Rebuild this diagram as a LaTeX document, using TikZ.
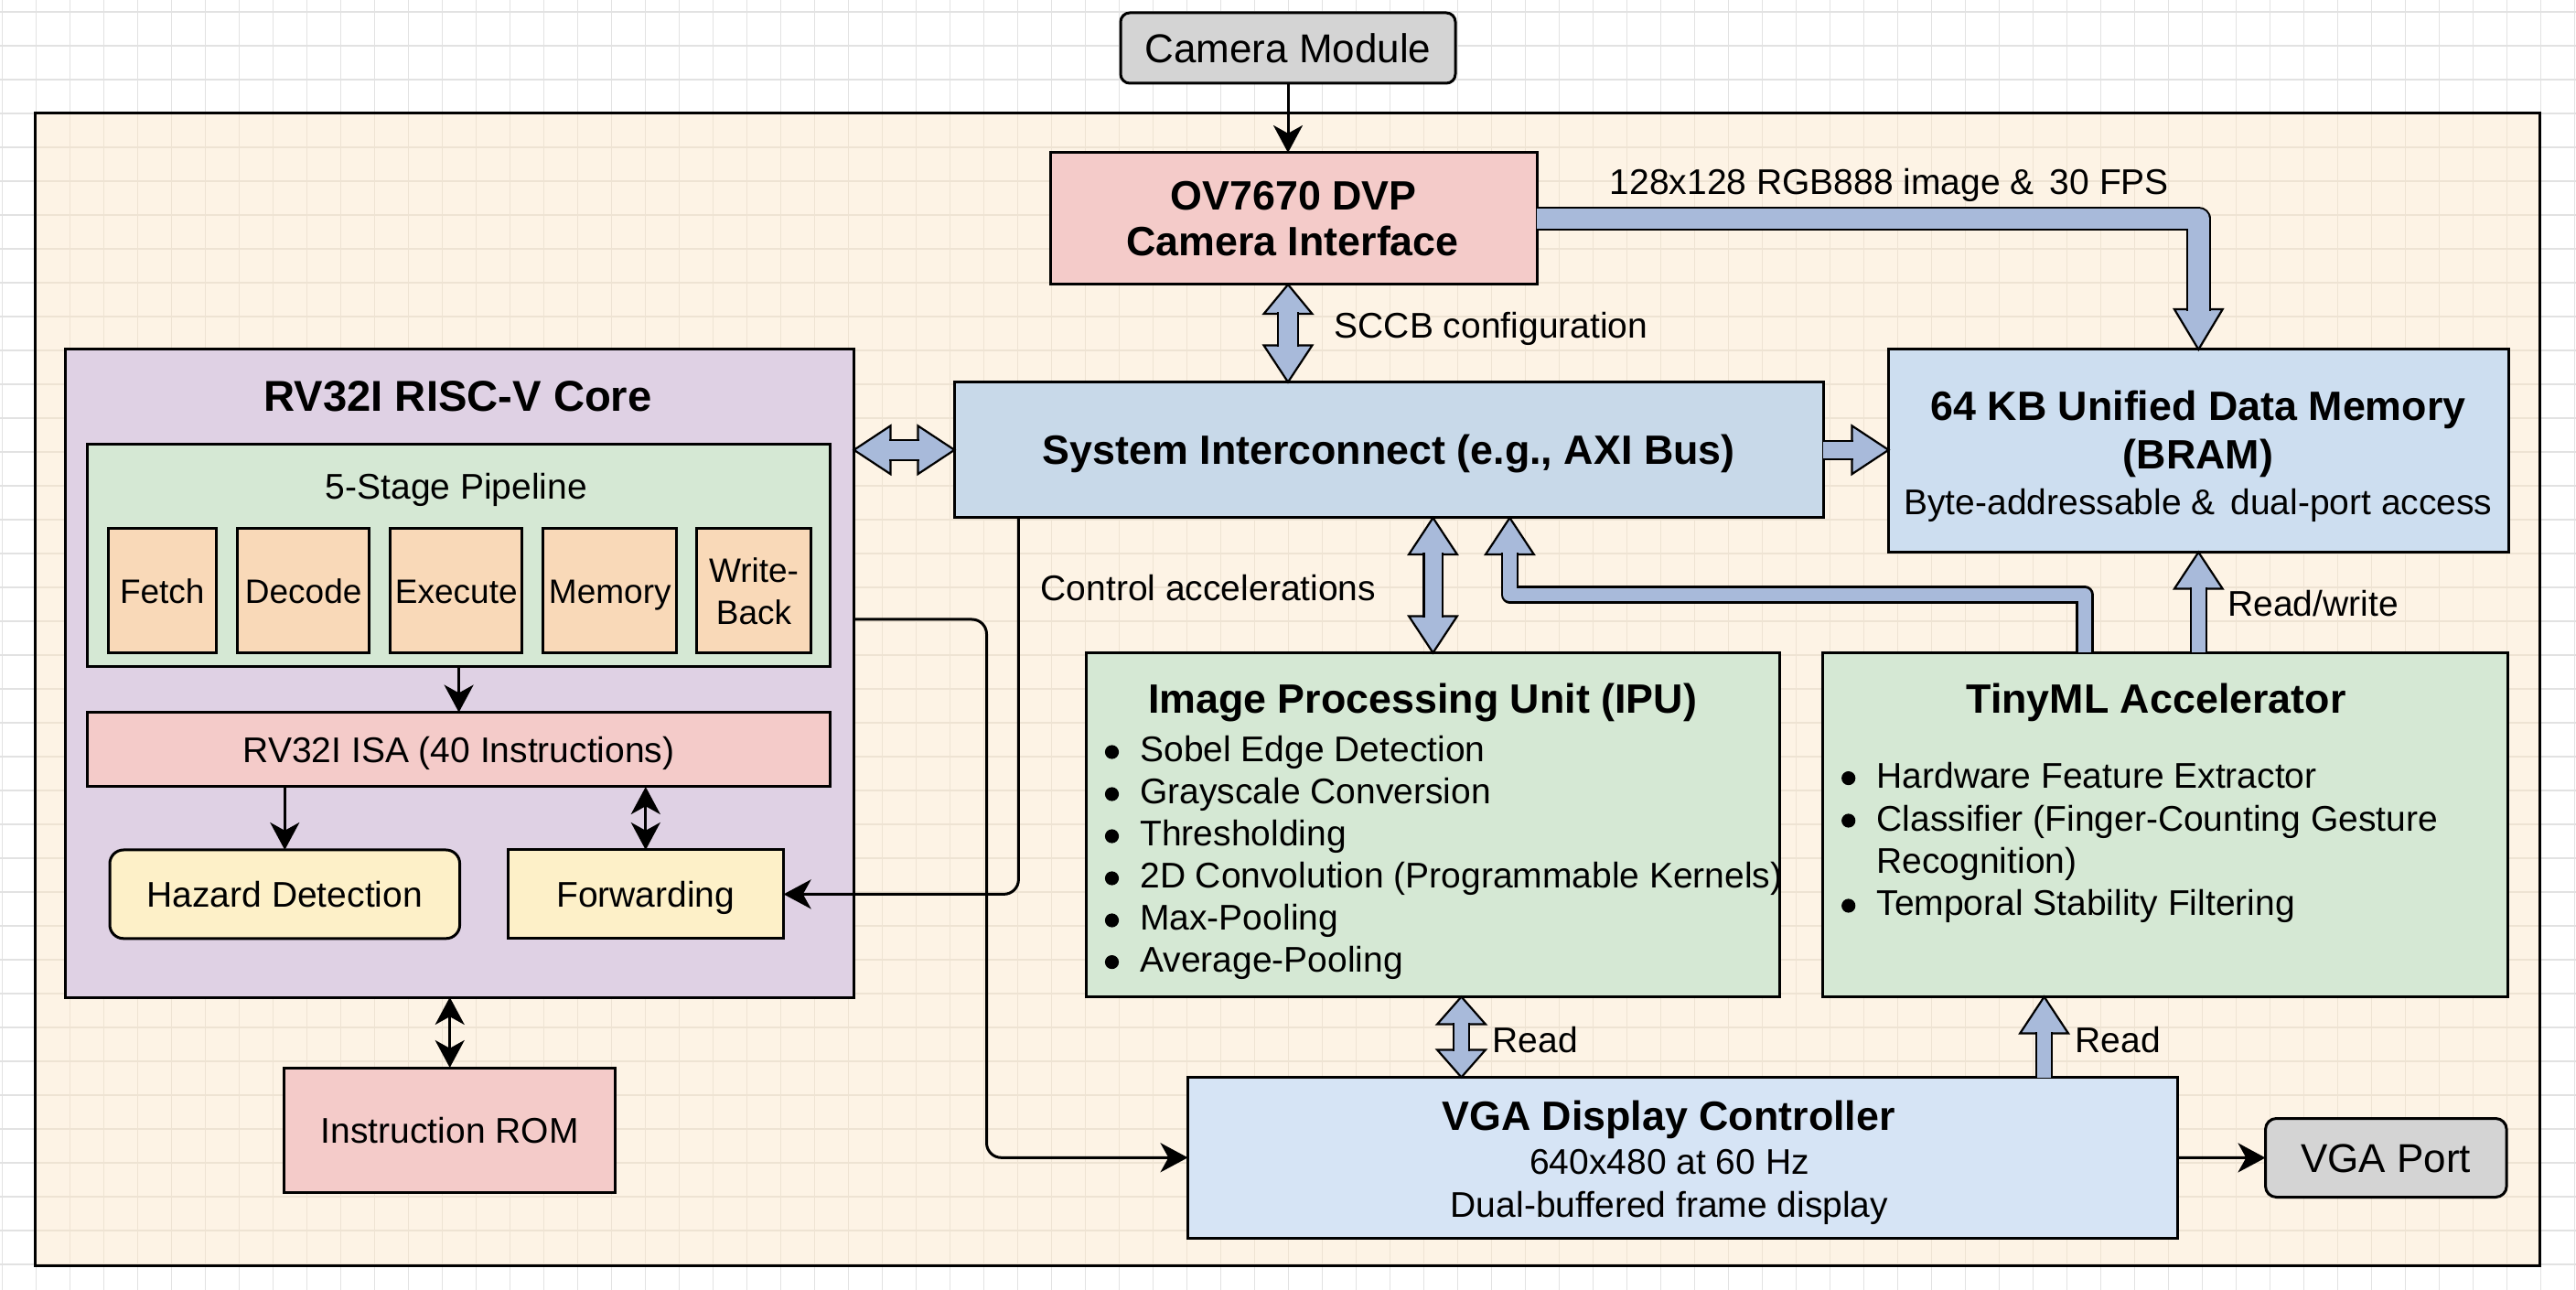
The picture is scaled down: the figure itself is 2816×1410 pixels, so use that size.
\documentclass[tikz,border=0pt]{standalone}
\usepackage{fontspec}
\setmainfont{Liberation Sans}
\usetikzlibrary{arrows.meta,calc}
\definecolor{ccream}{HTML}{FDF3E5}
\definecolor{cgridout}{HTML}{E2E2E2}
\definecolor{cgridin}{HTML}{EEE3D3}
\definecolor{clav}{HTML}{DFD1E4}
\definecolor{cgrn}{HTML}{D5E8D4}
\definecolor{cpeach}{HTML}{F9D9B8}
\definecolor{cpink}{HTML}{F4CBC9}
\definecolor{cyel}{HTML}{FDF0C8}
\definecolor{cicblue}{HTML}{C8D9E9}
\definecolor{cmemblue}{HTML}{CDDEF0}
\definecolor{cvgablue}{HTML}{D6E4F5}
\definecolor{cgry}{HTML}{D4D4D4}
\definecolor{cfat}{HTML}{A8BADA}
\newcommand\fttl{\fontsize{11.2pt}{13pt}\selectfont\bfseries}
\newcommand\ftxt{\fontsize{9.75pt}{11.5pt}\selectfont}
\newcommand\fstg{\fontsize{9.25pt}{11.5pt}\selectfont}
\newcommand\fcam{\fontsize{11pt}{13pt}\selectfont}
\newcommand\fcore{\fontsize{11.8pt}{14pt}\selectfont\bfseries}
\newcommand\fhead[3][10pt]{\draw[fathd] (#2) -- ($(#2)+(#3+180:#1)+(#3+90:6.6pt)$) -- ($(#2)+(#3+180:#1)+(#3-90:6.6pt)$) -- cycle;}
\tikzset{
 bx/.style={draw=black, line width=0.75pt, inner sep=0pt, outer sep=0pt},
 capt/.style={text height=#1, text depth=0pt},
 stg/.style={bx, fill=cpeach, minimum height=34pt, font=\fstg},
 thinarr/.style={draw=black, line width=0.75pt, -{Stealth[length=7.5pt,width=8pt,inset=2.2pt]}},
 thinarrb/.style={draw=black, line width=0.75pt, {Stealth[length=7.5pt,width=8pt,inset=2.2pt]}-{Stealth[length=7.5pt,width=8pt,inset=2.2pt]}},
 fathd/.style={draw=black, fill=cfat, line width=0.55pt, line join=miter},
 fatshaft/.style={draw=black, line width=0.55pt, double=cfat, double distance=#1, line join=round},
 fatshaft/.default=4.5pt,
 lbl/.style={anchor=base west, inner sep=0pt, font=\ftxt},
 ctr/.style={anchor=base, inner sep=0pt},
}
\begin{document}
\begin{tikzpicture}[x=0.25pt,y=-0.25pt]
\useasboundingbox (0,0) rectangle (2816,1410);
\fill[white] (0,0) rectangle (2816,1410);
\foreach \gx in {2.5,39.5,...,2816} \draw[cgridout, line width=0.3pt] (\gx,0) -- (\gx,1410);
\foreach \gy in {13,50,...,1410} \draw[cgridout, line width=0.3pt] (0,\gy) -- (2816,\gy);
% SoC frame
\node[fill=ccream, inner sep=0pt, minimum width=684.125pt, minimum height=314.75pt] (soc) at (1407.75,753.5) {};
\foreach \gx in {76.5,113.5,...,2775} \draw[cgridin, line width=0.3pt] (\gx,124) -- (\gx,1383);
\foreach \gy in {161,198,...,1382} \draw[cgridin, line width=0.3pt] (39.5,\gy) -- (2776,\gy);
\draw[line width=0.75pt] (soc.north west) rectangle (soc.south east);

% top
\node[bx, fill=cgry, rounded corners=2.5pt, minimum width=91.5pt, minimum height=19.25pt, font=\fcam, capt=7.9pt] (cam) at (1408,52.5) {Camera Module};
\node[bx, fill=cpink, minimum width=133pt, minimum height=36pt] (ov) at (1414,239) {};
\node[ctr, font=\fttl] (ov1) at (1414,230) {OV7670 DVP};
\node[ctr, font=\fttl] (ov2) at (1413,280) {Camera Interface};

% core
\node[bx, fill=clav, minimum width=215.5pt, minimum height=177pt] (core) at (502.5,736) {};
\node[ctr, font=\fcore] (coret) at (500.6,450) {RV32I RISC-V Core};
\node[bx, fill=cgrn, minimum width=202.95pt, minimum height=60.575pt] (pipe) at (501.6,606.9) {};
\node[ctr, font=\ftxt] (pipet) at (499,546) {5-Stage Pipeline};
\node[stg, capt=6.62pt, minimum width=29.65pt] (fetch) at (177.3,646) {Fetch};
\node[stg, capt=6.62pt, minimum width=36pt] (decode) at (331.7,646) {Decode};
\node[stg, capt=6.62pt, minimum width=36pt] (execute) at (498.8,646) {Execute};
\node[stg, capt=6.62pt, minimum width=36.5pt] (memstage) at (666.8,646) {Memory};
\node[stg, minimum width=31.25pt, align=center] (wb) at (824,646) {Write-\\Back};
\node[bx, fill=cpink, minimum width=202.95pt, minimum height=20.35pt, font=\ftxt, capt=6.98pt] (isa) at (501.6,819.3) {RV32I ISA (40 Instructions)};
\node[bx, fill=cyel, rounded corners=3.75pt, minimum width=95.65pt, minimum height=24.2pt, font=\ftxt, capt=6.98pt] (hazard) at (311.3,977.4) {Hazard Detection};
\node[bx, fill=cyel, minimum width=75.4pt, minimum height=24.2pt, font=\ftxt, capt=6.98pt] (fwd) at (705.8,977.4) {Forwarding};
\node[bx, fill=cpink, minimum width=90.55pt, minimum height=34.15pt, font=\ftxt, capt=6.98pt] (rom) at (491.7,1235.3) {Instruction ROM};

% interconnect and memory
\node[bx, fill=cicblue, minimum width=237.4pt, minimum height=37.1pt, font=\fttl, capt=8pt] (ic) at (1518.2,491.8) {System Interconnect (e.g., AXI Bus)};
\node[bx, fill=cmemblue, minimum width=169.4pt, minimum height=55.4pt] (mem) at (2403.3,492.8) {};
\node[ctr, font=\fttl] (mem1) at (2403,460) {64 KB Unified Data Memory};
\node[ctr, font=\fttl] (mem2) at (2403,513) {(BRAM)};
\node[ctr, font=\ftxt] (mem3) at (2403,563) {Byte-addressable \&\hspace{4.15pt}dual-port access};

% IPU
\node[bx, fill=cgrn, minimum width=189.5pt, minimum height=94pt] (ipu) at (1566.5,901.5) {};
\node[ctr, font=\fttl] (iput) at (1555,780) {Image Processing Unit (IPU)};
\node[lbl] (ipu1) at (1245.5,833) {Sobel Edge Detection};
\node[lbl] (ipu2) at (1245.5,879) {Grayscale Conversion};
\node[lbl] (ipu3) at (1245.5,925) {Thresholding};
\node[lbl] (ipu4) at (1245.5,971) {2D Convolution (Programmable Kernels)};
\node[lbl] (ipu5) at (1245.5,1017) {Max-Pooling};
\node[lbl] (ipu6) at (1245.5,1062.6) {Average-Pooling};

% TinyML
\node[bx, fill=cgrn, minimum width=187.25pt, minimum height=94pt] (tml) at (2367,901.5) {};
\node[ctr, font=\fttl] (tmlt) at (2357,779.4) {TinyML Accelerator};
\node[lbl] (tml1) at (2050.7,861.6) {Hardware Feature Extractor};
\node[lbl] (tml2) at (2050.7,908) {Classifier (Finger-Counting Gesture};
\node[lbl] (tml3) at (2050.7,954.5) {Recognition)};
\node[lbl] (tml4) at (2050.7,1001) {Temporal Stability Filtering};
\foreach \n in {ipu1,ipu2,ipu3,ipu4,ipu5,ipu6,tml1,tml2,tml4} \fill ($(\n.base west)+(-30,-11)$) circle[radius=1.9pt];

% VGA
\node[bx, fill=cvgablue, minimum width=270.5pt, minimum height=43.9pt] (vga) at (1839.5,1265.3) {};
\node[ctr, font=\fttl] (vga1) at (1824,1235) {VGA Display Controller};
\node[ctr, font=\ftxt] (vga2) at (1825,1283) {640x480 at 60 Hz};
\node[ctr, font=\ftxt] (vga3) at (1825,1330) {Dual-buffered frame display};
\node[bx, fill=cgry, rounded corners=3pt, minimum width=65.9pt, minimum height=21.5pt, font=\fcam, capt=7.9pt] (port) at (2608.3,1265.5) {VGA Port};

% labels
\node[lbl] (ldata) at (1759,213) {128x128 RGB888 image \&\hspace{4.3pt}30 FPS};
\node[lbl] (lsccb) at (1458,370) {SCCB configuration};
\node[lbl] (lctrl) at (1137,657) {Control accelerations};
\node[lbl] (lrw) at (2434.5,674) {Read/write};
\node[lbl] (lr1) at (1631,1150) {Read};
\node[lbl] (lr2) at (2268,1150) {Read};

% thin connectors
\draw[thinarr] (cam.south) -- (cam.south |- ov.north);
\draw[thinarr] (pipe.south) -- (isa.north);
\draw[thinarr] (hazard.north |- isa.south) -- (hazard.north);
\draw[thinarrb] (fwd.north |- isa.south) -- (fwd.north);
\draw[thinarrb] (rom.north |- core.south) -- (rom.north);
\draw[thinarr, rounded corners=4pt] ($(core.north east)+(0,295)$) -| ($(vga.west)+(-220,0)$) -- (vga.west);
\draw[thinarr, rounded corners=4pt] ($(ic.south west)+(70,0)$) |- (fwd.east);
\draw[thinarr] (vga.east) -- (port.west);

% fat arrows
\coordinate (aL) at (ic.west -| core.east);
\coordinate (aR) at (ic.west);
\fhead{aL}{180}
\fhead{aR}{0}
\draw[fatshaft=4.9pt] ($(aL)+(0:9.6pt)$) -- ($(aR)+(180:9.6pt)$);

\coordinate (bL) at (ic.east);
\coordinate (bR) at (ic.east -| mem.west);
\fhead{bR}{0}
\draw[fatshaft] (bL) -- ($(bR)+(180:9.6pt)$);

\coordinate (cT) at (cam.south |- ov.south);
\coordinate (cB) at (cam.south |- ic.north);
\fhead[8pt]{cT}{90}
\fhead{cB}{-90}
\draw[fatshaft=4.9pt] ($(cT)+(-90:7.6pt)$) -- ($(cB)+(90:9.6pt)$);

\fhead[11pt]{mem.north}{-90}
\draw[fatshaft=5.6pt] (ov.east) -| ($(mem.north)+(90:10.6pt)$);

\coordinate (dB) at (ipu.north);
\coordinate (dT) at (ipu.north |- ic.south);
\fhead{dT}{90}
\fhead{dB}{-90}
\draw[fatshaft] ($(dT)+(-90:9.6pt)$) -- ($(dB)+(90:9.6pt)$);

\coordinate (hS) at ($(tml.north west)+(286.5,0)$);
\coordinate (hT) at ($(ic.south west)+(607,0)$);
\fhead{hT}{90}
\draw[fatshaft=3.7pt] (hS) -- ++(0,-63.5) -| ($(hT)+(-90:9.6pt)$);

\coordinate (gT) at (mem.south);
\coordinate (gB) at (mem.south |- tml.north);
\fhead{gT}{90}
\draw[fatshaft=3.8pt] (gB) -- ($(gT)+(-90:9.6pt)$);

\coordinate (eT) at ($(ipu.south)+(31,0)$);
\coordinate (eB) at (eT |- vga.north);
\fhead[7.5pt]{eT}{90}
\fhead[7.5pt]{eB}{-90}
\draw[fatshaft=3.8pt] ($(eT)+(-90:7.1pt)$) -- ($(eB)+(90:7.1pt)$);

\coordinate (fT) at ($(tml.south)+(-132.4,0)$);
\coordinate (fB) at (fT |- vga.north);
\fhead{fT}{90}
\draw[fatshaft=3.8pt] (fB) -- ($(fT)+(-90:9.6pt)$);
\end{tikzpicture}
\end{document}
